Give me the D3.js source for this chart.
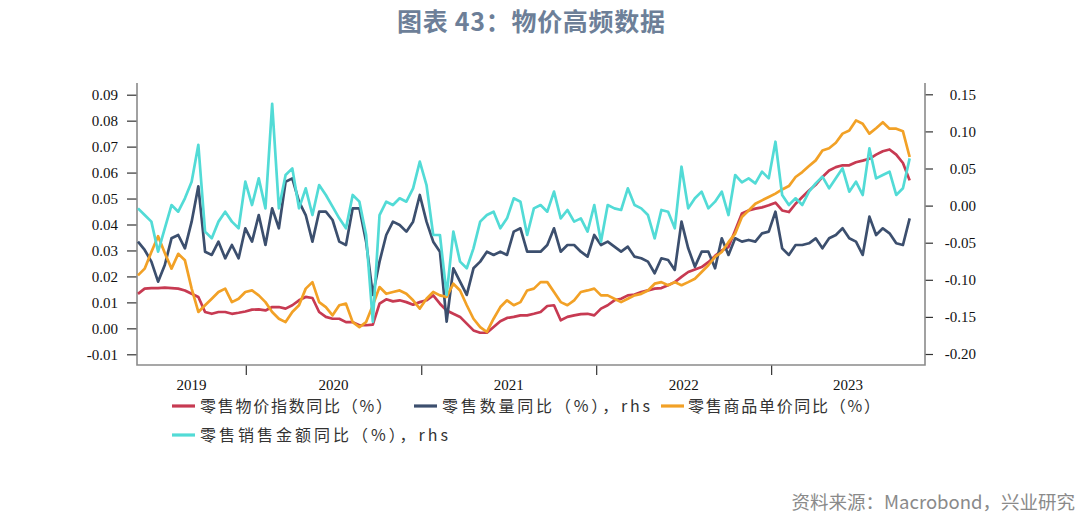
<!DOCTYPE html>
<html><head><meta charset="utf-8">
<script src="https://cdn.jsdelivr.net/npm/d3@7"></script>
<style>body{margin:0;background:#fff}svg{display:block}</style>
</head><body><svg id="c" width="1080" height="519"></svg>
<script>
// ---- data ----
const startDate = new Date(2019, 4, 21);
const stepDays = 14;
const years = ['2019', '2020', '2021', '2022', '2023'];
const leftTicks = [-0.01, 0.00, 0.01, 0.02, 0.03, 0.04, 0.05, 0.06, 0.07, 0.08, 0.09];
const rightTicks = [-0.20, -0.15, -0.10, -0.05, 0.00, 0.05, 0.10, 0.15];
const seriesNames = ['零售物价指数同比（%）', '零售数量同比（%），rhs', '零售商品单价同比（%）', '零售销售金额同比（%），rhs'];
const seriesColors = ['#c73a52', '#3c4f6e', '#f2a126', '#52dbd6'];

const retailPriceIndex = [0.0133,0.0153,0.0155,0.0155,0.0157,0.0155,0.0153,0.0146,0.0133,0.0121,
 0.0063,0.0056,0.0063,0.0063,0.0056,0.0060,0.0065,0.0072,0.0073,0.0069,
 0.0082,0.0082,0.0076,0.0089,0.0108,0.0121,0.0117,0.0063,0.0044,0.0037,
 0.0037,0.0024,0.0024,0.0012,0.0012,0.0014,0.0095,0.0112,0.0104,0.0108,
 0.0101,0.0091,0.0101,0.0108,0.0127,0.0095,0.0069,0.0056,0.0044,0.0018,
 -0.0008,-0.0017,-0.0017,0.0005,0.0027,0.0040,0.0044,0.0050,0.0050,0.0056,
 0.0063,0.0086,0.0089,0.0031,0.0044,0.0050,0.0055,0.0056,0.0050,0.0076,
 0.0089,0.0108,0.0114,0.0127,0.0130,0.0140,0.0146,0.0153,0.0155,0.0166,
 0.0178,0.0198,0.0217,0.0227,0.0236,0.0255,0.0279,0.0300,0.0313,0.0377,
 0.0442,0.0454,0.0461,0.0466,0.0474,0.0484,0.0454,0.0448,0.0480,0.0506,
 0.0531,0.0553,0.0583,0.0608,0.0621,0.0628,0.0628,0.0640,0.0646,0.0653,
 0.0669,0.0682,0.0689,0.0669,0.0637,0.0570];

const retailVolume = [-0.0486,-0.0598,-0.0755,-0.1025,-0.0800,-0.0441,-0.0396,-0.0576,-0.0216,0.0260,
 -0.0621,-0.0665,-0.0486,-0.0710,-0.0531,-0.0710,-0.0306,-0.0486,-0.0127,-0.0531,
 -0.0037,-0.0306,0.0322,0.0367,0.0053,-0.0127,-0.0486,-0.0082,-0.0082,-0.0194,
 -0.0486,-0.0531,-0.0037,-0.0037,-0.0486,-0.1204,-0.0755,-0.0396,-0.0216,-0.0261,
 -0.0351,-0.0216,0.0143,-0.0216,-0.0486,-0.0621,-0.1563,-0.0845,-0.1025,-0.1204,
 -0.0845,-0.0755,-0.0621,-0.0665,-0.0621,-0.0665,-0.0351,-0.0306,-0.0621,-0.0621,
 -0.0621,-0.0531,-0.0306,-0.0621,-0.0531,-0.0531,-0.0621,-0.0688,-0.0396,-0.0531,
 -0.0486,-0.0553,-0.0621,-0.0553,-0.0688,-0.0710,-0.0755,-0.0912,-0.0710,-0.0733,
 -0.0867,-0.0216,-0.0576,-0.0823,-0.0621,-0.0621,-0.0845,-0.0441,-0.0665,-0.0441,
 -0.0486,-0.0463,-0.0486,-0.0374,-0.0351,-0.0082,-0.0576,-0.0665,-0.0531,-0.0531,
 -0.0508,-0.0441,-0.0576,-0.0441,-0.0396,-0.0306,-0.0441,-0.0486,-0.0665,-0.0149,
 -0.0396,-0.0306,-0.0374,-0.0508,-0.0531,-0.0172];

const unitPrice = [0.0204,0.0230,0.0294,0.0355,0.0290,0.0230,0.0287,0.0262,0.0153,0.0063,
 0.0089,0.0114,0.0140,0.0153,0.0101,0.0114,0.0140,0.0146,0.0127,0.0101,
 0.0063,0.0037,0.0024,0.0063,0.0089,0.0153,0.0178,0.0101,0.0082,0.0050,
 0.0089,0.0095,0.0024,0.0005,0.0024,0.0089,0.0159,0.0133,0.0140,0.0146,
 0.0133,0.0108,0.0076,0.0114,0.0140,0.0127,0.0121,0.0172,0.0146,0.0089,
 0.0037,0.0005,-0.0014,0.0037,0.0082,0.0108,0.0089,0.0101,0.0146,0.0153,
 0.0178,0.0178,0.0140,0.0101,0.0089,0.0108,0.0140,0.0146,0.0153,0.0127,
 0.0127,0.0114,0.0101,0.0114,0.0127,0.0133,0.0146,0.0172,0.0178,0.0166,
 0.0178,0.0166,0.0178,0.0191,0.0217,0.0243,0.0275,0.0294,0.0332,0.0365,
 0.0429,0.0454,0.0480,0.0493,0.0506,0.0519,0.0535,0.0548,0.0583,0.0602,
 0.0625,0.0647,0.0685,0.0694,0.0715,0.0750,0.0762,0.0801,0.0788,0.0750,
 0.0771,0.0794,0.0769,0.0769,0.0759,0.0660];

const salesValue = [-0.0037,-0.0127,-0.0216,-0.0621,-0.0306,0.0008,-0.0082,0.0098,0.0322,0.0820,
 -0.0351,-0.0441,-0.0216,-0.0082,-0.0216,-0.0306,0.0322,0.0008,0.0367,-0.0037,
 0.1370,-0.0037,0.0412,0.0502,-0.0037,0.0233,-0.0127,0.0277,0.0143,-0.0014,
 -0.0172,-0.0306,0.0143,0.0053,-0.0396,-0.1563,-0.0127,0.0053,0.0008,0.0098,
 0.0053,0.0233,0.0592,0.0277,-0.0396,-0.0396,-0.1204,-0.0351,-0.0755,-0.0845,
 -0.0576,-0.0216,-0.0127,-0.0082,-0.0306,-0.0172,0.0098,0.0053,-0.0396,-0.0037,
 0.0008,-0.0082,0.0188,-0.0172,-0.0059,-0.0216,-0.0172,-0.0351,0.0008,-0.0486,
 0.0008,-0.0037,-0.0059,0.0233,0.0008,-0.0037,-0.0127,-0.0441,-0.0059,-0.0082,
 -0.0306,0.0524,-0.0037,0.0098,0.0188,-0.0037,0.0053,0.0188,-0.0127,0.0412,
 0.0313,0.0367,0.0300,0.0457,0.0367,0.0861,0.0143,0.0008,0.0098,0.0008,
 0.0188,0.0300,0.0390,0.0233,0.0367,0.0502,0.0188,0.0322,0.0143,0.0771,
 0.0367,0.0412,0.0457,0.0143,0.0233,0.0637];

const dates = retailPriceIndex.map((_, i) => d3.timeDay.offset(startDate, i * stepDays));

// ---- layout ----
const svg = d3.select('#c');
const plotLeft = 137, plotRight = 925, plotTop = 83, plotBottom = 365;
const x = d3.scaleTime().domain([new Date(2019, 4, 19), new Date(2023, 10, 18)]).range([plotLeft, plotRight]);
const yL = d3.scaleLinear().domain([-0.01, 0.09]).range([354.3, 94.7]);
const yR = d3.scaleLinear().domain([-0.20, 0.15]).range([354, 94.3]);
const fmt = d => d3.format('.2f')(d).replace('\u2212', '-');

// title
svg.append('text').attr('x', 531).attr('y', 31).attr('text-anchor', 'middle')
  .attr('font-family', '"Noto Sans CJK SC", "Noto Sans", sans-serif').attr('font-size', 25).attr('font-weight', 700)
  .attr('fill', '#6d7f98').attr('textLength', 268).attr('lengthAdjust', 'spacing')
  .text('图表 43：物价高频数据');

// left axis
const gL = svg.append('g').attr('transform', `translate(${plotLeft},0)`)
  .call(d3.axisLeft(yL).tickValues(leftTicks).tickSize(10).tickPadding(9).tickFormat(fmt));
// right axis
const gR = svg.append('g').attr('transform', `translate(${plotRight},0)`)
  .call(d3.axisRight(yR).tickValues(rightTicks).tickSize(8).tickPadding(9).tickFormat(fmt));
gR.selectAll('text').attr('text-anchor', 'end').attr('x', 51);
// x axis
const yearStarts = years.slice(1).map(y => new Date(+y, 0, 1));
const gX = svg.append('g').attr('transform', `translate(0,${plotBottom})`)
  .call(d3.axisBottom(x).tickValues(yearStarts).tickSize(10).tickFormat(''));
[gL, gR, gX].forEach(g => {
  g.select('.domain').remove();
  g.selectAll('.tick line').attr('stroke', '#333').attr('stroke-width', 1.2);
  g.selectAll('text').attr('font-family', '"Liberation Serif", "Times New Roman", serif')
    .attr('font-size', 15).attr('fill', '#111');
});

// year labels centred in visible year span
const [d0, d1] = x.domain();
years.forEach(y => {
  const a = new Date(Math.max(+new Date(+y, 0, 1), +d0));
  const b = new Date(Math.min(+new Date(+y + 1, 0, 1), +d1));
  svg.append('text').attr('x', (x(a) + x(b)) / 2).attr('y', 390).attr('text-anchor', 'middle')
    .attr('font-family', '"Liberation Serif", "Times New Roman", serif').attr('font-size', 15).attr('fill', '#111')
    .text(y);
});

// frame lines
svg.append('path').attr('d', `M${plotLeft},${plotTop}V${plotBottom}H${plotRight}V${plotTop}`)
  .attr('fill', 'none').attr('stroke', '#8a8a8a').attr('stroke-width', 1.6);

// series lines
const series = [
  { v: retailPriceIndex, y: yL, c: seriesColors[0] },
  { v: retailVolume, y: yR, c: seriesColors[1] },
  { v: unitPrice, y: yL, c: seriesColors[2] },
  { v: salesValue, y: yR, c: seriesColors[3] },
];
series.forEach(s => {
  const line = d3.line().x((d, i) => x(dates[i])).y(d => s.y(d)).curve(d3.curveLinear);
  svg.append('path').datum(s.v).attr('d', line).attr('fill', 'none')
    .attr('stroke', s.c).attr('stroke-width', 2.7).attr('stroke-linejoin', 'round');
});

// legend
const legendPos = [
  { lx: 172, tx: 200, y: 406, w: 192 },
  { lx: 414, tx: 442, y: 406, w: 208 },
  { lx: 661, tx: 688, y: 406, w: 192 },
  { lx: 172, tx: 200, y: 435, w: 248 },
];
seriesNames.forEach((n, i) => {
  const p = legendPos[i];
  svg.append('line').attr('x1', p.lx).attr('x2', p.lx + 23).attr('y1', p.y).attr('y2', p.y)
    .attr('stroke', seriesColors[i]).attr('stroke-width', 3.2);
  svg.append('text').attr('x', p.tx).attr('y', p.y + 6)
    .attr('font-family', '"Noto Sans CJK SC", sans-serif').attr('font-size', 16).attr('fill', '#333')
    .attr('textLength', p.w).attr('lengthAdjust', 'spacing').text(n);
});

// source
svg.append('text').attr('x', 1075).attr('y', 509).attr('text-anchor', 'end')
  .attr('font-family', '"Noto Sans CJK SC", sans-serif').attr('font-size', 18.5).attr('fill', '#8a8a8a')
  .text('资料来源：Macrobond，兴业研究');
</script>
</body></html>
